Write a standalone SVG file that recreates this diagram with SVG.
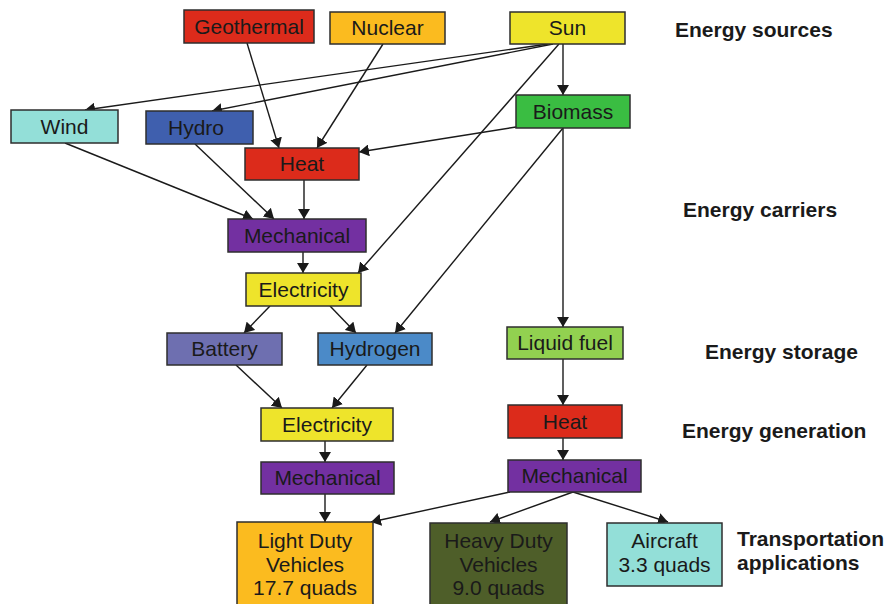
<svg xmlns="http://www.w3.org/2000/svg" width="890" height="604" viewBox="0 0 890 604">
<style>
.n rect{stroke:#2e2e2e;stroke-width:1.5}
.n text{font-family:"Liberation Sans",Arial,sans-serif;font-size:21px;fill:#1a1a1a;text-anchor:middle}
.lbl{font-family:"Liberation Sans",Arial,sans-serif;font-size:21px;font-weight:bold;fill:#1a1a1a}
#edges line{stroke:#1a1a1a;stroke-width:1.4;marker-end:url(#ah)}
</style>
<defs>
<marker id="ah" viewBox="0 0 10 12" refX="10" refY="6" markerWidth="10" markerHeight="12" markerUnits="userSpaceOnUse" orient="auto">
<path d="M0,0 L10,6 L0,12 Z" fill="#1a1a1a"/>
</marker>
</defs>
<rect width="890" height="604" fill="#ffffff"/>
<g id="edges">
<line x1="548" y1="44" x2="85" y2="110"/>
<line x1="553" y1="44" x2="212" y2="111"/>
<line x1="559" y1="44" x2="358" y2="273"/>
<line x1="563" y1="44" x2="563" y2="95"/>
<line x1="247" y1="43" x2="279" y2="148"/>
<line x1="383" y1="44" x2="317" y2="148"/>
<line x1="516" y1="127" x2="359" y2="152"/>
<line x1="563" y1="128" x2="395" y2="333"/>
<line x1="563" y1="128" x2="563" y2="327"/>
<line x1="65" y1="143" x2="253" y2="219"/>
<line x1="195" y1="144" x2="274" y2="219"/>
<line x1="304" y1="180" x2="304" y2="219"/>
<line x1="303" y1="252" x2="303" y2="273"/>
<line x1="270" y1="306" x2="244" y2="333"/>
<line x1="330" y1="306" x2="356" y2="333"/>
<line x1="236" y1="365" x2="282" y2="408"/>
<line x1="367" y1="365" x2="332" y2="408"/>
<line x1="325" y1="441" x2="325" y2="462"/>
<line x1="325" y1="494" x2="325" y2="522"/>
<line x1="563" y1="359" x2="563" y2="405"/>
<line x1="563" y1="438" x2="563" y2="460"/>
<line x1="510" y1="492" x2="371" y2="522"/>
<line x1="573" y1="492" x2="490" y2="522"/>
<line x1="573" y1="492" x2="668" y2="522"/>
</g>
<g id="geothermal" class="n"><rect x="184" y="10" width="130" height="33" fill="#dc2b1b"/><text x="249" y="34">Geothermal</text></g>
<g id="nuclear" class="n"><rect x="330" y="12" width="115" height="32" fill="#fbbb1f"/><text x="387.5" y="35">Nuclear</text></g>
<g id="sun" class="n"><rect x="510" y="12" width="115" height="32" fill="#eee42b"/><text x="567.5" y="35">Sun</text></g>
<g id="biomass" class="n"><rect x="516" y="95" width="114" height="33" fill="#3abd42"/><text x="573" y="119">Biomass</text></g>
<g id="wind" class="n"><rect x="11" y="110" width="107" height="33" fill="#93dfd8"/><text x="64.5" y="134">Wind</text></g>
<g id="hydro" class="n"><rect x="146" y="111" width="107" height="33" fill="#3f5fae"/><text x="196" y="135">Hydro</text></g>
<g id="heat1" class="n"><rect x="245" y="148" width="114" height="32" fill="#dc2b1b"/><text x="302" y="171">Heat</text></g>
<g id="mechanical1" class="n"><rect x="228" y="219" width="138" height="33" fill="#7330a1"/><text x="297" y="243">Mechanical</text></g>
<g id="electricity1" class="n"><rect x="246" y="273" width="115" height="33" fill="#eee42b"/><text x="303.5" y="297">Electricity</text></g>
<g id="battery" class="n"><rect x="167" y="333" width="115" height="32" fill="#6e6fb0"/><text x="224.5" y="356">Battery</text></g>
<g id="hydrogen" class="n"><rect x="318" y="333" width="114" height="32" fill="#4b8ac8"/><text x="375" y="356">Hydrogen</text></g>
<g id="liquidfuel" class="n"><rect x="507" y="327" width="116" height="32" fill="#92d150"/><text x="565" y="350">Liquid fuel</text></g>
<g id="electricity2" class="n"><rect x="261" y="408" width="132" height="33" fill="#eee42b"/><text x="327" y="432">Electricity</text></g>
<g id="heat2" class="n"><rect x="508" y="405" width="114" height="33" fill="#dc2b1b"/><text x="565" y="429">Heat</text></g>
<g id="mechanical2" class="n"><rect x="261" y="462" width="133" height="32" fill="#7330a1"/><text x="327.5" y="485">Mechanical</text></g>
<g id="mechanical3" class="n"><rect x="508" y="460" width="133" height="32" fill="#7330a1"/><text x="574.5" y="483">Mechanical</text></g>
<g id="lightduty" class="n"><rect x="237" y="522" width="136" height="86" fill="#fbbb1f"/><text x="305" y="548">Light Duty</text><text x="305" y="572">Vehicles</text><text x="305" y="595">17.7 quads</text></g>
<g id="heavyduty" class="n"><rect x="430" y="523" width="137" height="85" fill="#4e5e29"/><text x="498.5" y="548">Heavy Duty</text><text x="498.5" y="572">Vehicles</text><text x="498.5" y="595">9.0 quads</text></g>
<g id="aircraft" class="n"><rect x="607" y="523" width="115" height="63" fill="#93dfd8"/><text x="664.5" y="548">Aircraft</text><text x="664.5" y="572">3.3 quads</text></g>
<g id="labels">
<text class="lbl" x="675" y="37">Energy sources</text>
<text class="lbl" x="683" y="217">Energy carriers</text>
<text class="lbl" x="705" y="359">Energy storage</text>
<text class="lbl" x="682" y="438">Energy generation</text>
<text class="lbl" x="737" y="546">Transportation</text>
<text class="lbl" x="737" y="570">applications</text>
</g>
</svg>
